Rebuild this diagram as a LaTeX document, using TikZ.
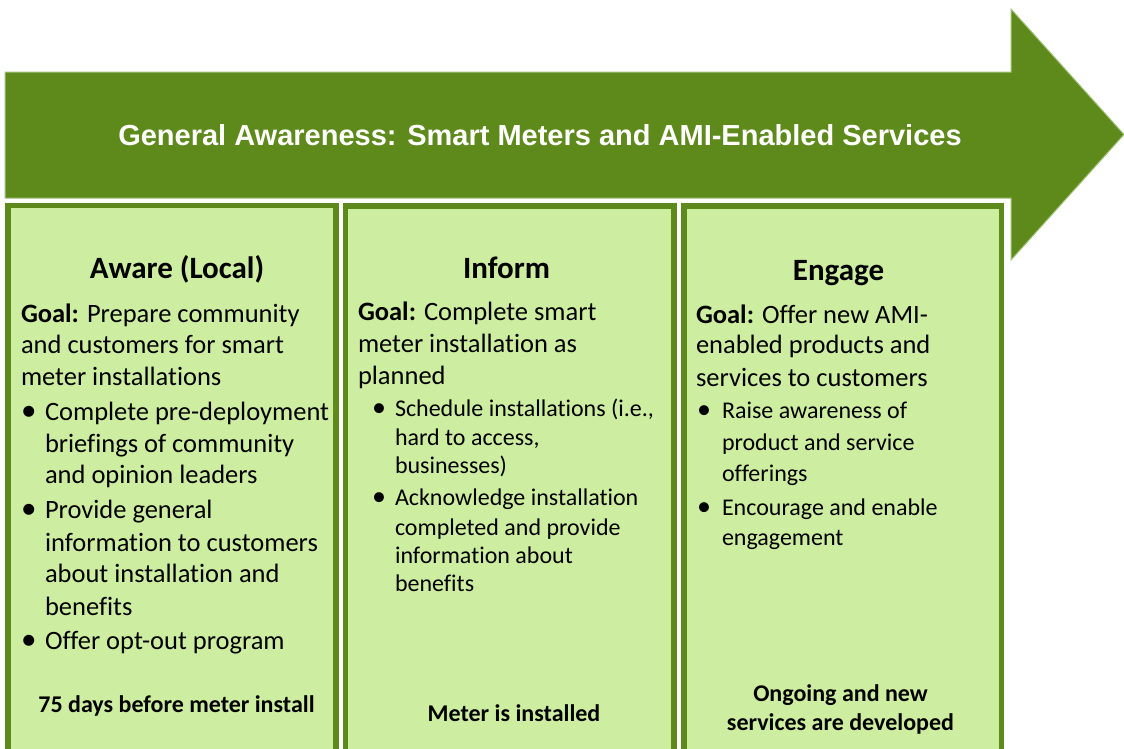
\documentclass[tikz,border=0pt]{standalone}
\usepackage{fontspec}
\setmainfont{Carlito}[Ligatures={NoCommon}]
\newfontfamily\arialfont{Liberation Sans}
\definecolor{dkgreen}{HTML}{5E8A1C}
\definecolor{ltgreen}{HTML}{CDEDA0}
\definecolor{edgegreen}{HTML}{A3C27A}
\newcommand\fbody{\fontsize{26.5}{32}\selectfont}
\newcommand\fsmall{\fontsize{24}{29}\selectfont}
\newcommand\fhead{\fontsize{31}{37}\selectfont\bfseries}
\newcommand\flabel{\fontsize{24}{29}\selectfont\bfseries}
\newcommand\ftitle{\arialfont\fontsize{29}{34}\selectfont\bfseries}
\tikzset{
  arrowshape/.style={fill=dkgreen, draw=edgegreen, line width=1pt},
  phasebox/.style={fill=ltgreen, draw=dkgreen, line width=5.5pt},
  txt/.style={anchor=base west, inner sep=0pt, outer sep=0pt, font=\fbody},
  sm/.style={anchor=base west, inner sep=0pt, outer sep=0pt, font=\fsmall},
  head/.style={anchor=base, inner sep=0pt, outer sep=0pt, font=\fhead},
  lbl/.style={anchor=base, inner sep=0pt, outer sep=0pt, font=\flabel},
  ttl/.style={anchor=base, inner sep=0pt, outer sep=0pt, font=\ftitle, text=white},
  bulbig/.style={anchor=base west, inner sep=0pt, outer sep=0pt, font=\fontsize{31}{32}\selectfont},
  bulsm/.style={anchor=base west, inner sep=0pt, outer sep=0pt, font=\fontsize{28}{29}\selectfont},
}
\begin{document}
\begin{tikzpicture}[x=1pt,y=-1pt]
\useasboundingbox (0,0) rectangle (1124,748);
\clip (0,0) rectangle (1124,748);
\fill[white] (0,0) rectangle (1124,748);
% big arrow
\draw[arrowshape] (5,72) -- (1011,72) -- (1011,9) -- (1124,134.5) -- (1011,260) -- (1011,198) -- (5,198) -- cycle;
\node[ttl] (title) at (540,145.7) {General Awareness: Smart Meters and AMI-Enabled Services};
% boxes
\draw[phasebox] (8,205.5) rectangle (336,775);
\draw[phasebox] (345.5,206) rectangle (674,775);
\draw[phasebox] (684,206) rectangle (1001.5,775);
% box 1
\node[head] (h1) at (177,278) {Aware (Local)};
\node[txt] (a1) at (21,322) {\textbf{Goal:} Prepare community};
\node[txt] (a2) at (21,353.5) {and customers for smart};
\node[txt] (a3) at (21,385) {meter installations};
\node[bulbig] (ab1) at (21,420) {•};
\node[txt] (a4) at (45,420) {Complete pre-deployment};
\node[txt] (a5) at (45,452) {briefings of community};
\node[txt] (a6) at (45,483.5) {and opinion leaders};
\node[bulbig] (ab2) at (21,518.3) {•};
\node[txt] (a7) at (45,518.3) {Provide general};
\node[txt] (a8) at (45,551.7) {information to customers};
\node[txt] (a9) at (45,582) {about installation and};
\node[txt] (a10) at (45,615) {benefits};
\node[bulbig] (ab3) at (21,649) {•};
\node[txt] (a11) at (45,649) {Offer opt-out program};
\node[lbl] (l1) at (176.5,712.3) {75 days before meter install};
% box 2
\node[head] (h2) at (506.5,278) {Inform};
\node[txt] (b1) at (358,320) {\textbf{Goal:} Complete smart};
\node[txt] (b2) at (358,352.5) {meter installation as};
\node[txt] (b3) at (358,384) {planned};
\node[bulsm] (bb1) at (372,416.7) {•};
\node[sm] (b4) at (395,416.7) {Schedule installations (i.e.,};
\node[sm] (b5) at (395,445) {hard to access,};
\node[sm] (b6) at (395,473.3) {businesses)};
\node[bulsm] (bb2) at (372,505) {•};
\node[sm] (b7) at (395,505) {Acknowledge installation};
\node[sm] (b8) at (395,535) {completed and provide};
\node[sm] (b9) at (395,563.3) {information about};
\node[sm] (b10) at (395,591.7) {benefits};
\node[lbl] (l2) at (514,721.7) {Meter is installed};
% box 3
\node[head] (h3) at (838.5,280) {Engage};
\node[txt] (c1) at (696,323.3) {\textbf{Goal:} Offer new AMI-};
\node[txt] (c2) at (696,353.3) {enabled products and};
\node[txt] (c3) at (696,386.7) {services to customers};
\node[bulsm] (cb1) at (697,418.3) {•};
\node[sm] (c4) at (722,418.3) {Raise awareness of};
\node[sm] (c5) at (722,450) {product and service};
\node[sm] (c6) at (722,481.7) {offerings};
\node[bulsm] (cb2) at (697,515) {•};
\node[sm] (c7) at (722,515) {Encourage and enable};
\node[sm] (c8) at (722,545) {engagement};
\node[lbl] (l3a) at (840.5,701.7) {Ongoing and new};
\node[lbl] (l3b) at (840.5,730) {services are developed};
\end{tikzpicture}
\end{document}
